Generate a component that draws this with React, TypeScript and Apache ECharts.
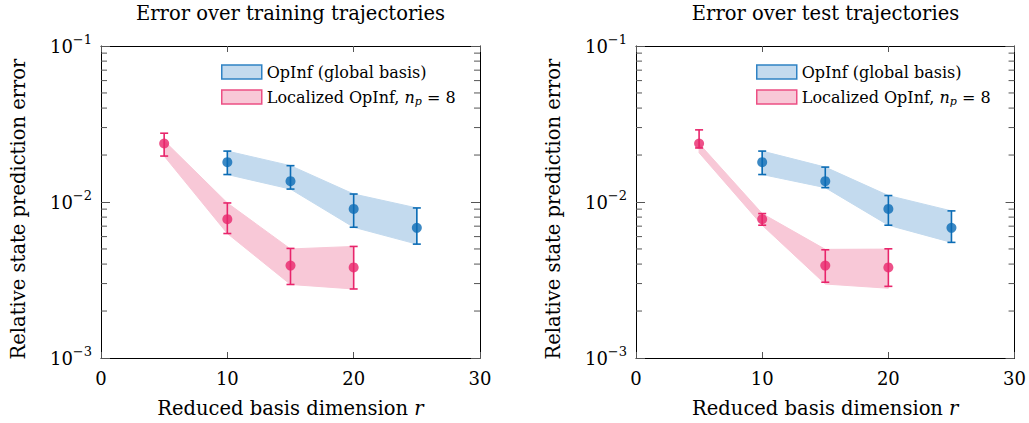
import React, { useEffect, useRef } from "react";
import * as echarts from "echarts";

const FONT = "DejaVu Serif";

// reduced basis dimensions
const rGlobal = [10, 15, 20, 25];
const rLocal = [5, 10, 15, 20];

// training trajectories
const trainGlobalMean = [0.018, 0.0136, 0.00903, 0.00683];
const trainGlobalLo = [0.015, 0.0121, 0.00689, 0.00537];
const trainGlobalHi = [0.0212, 0.0171, 0.01125, 0.00916];
const trainLocalMean = [0.0237, 0.00776, 0.00391, 0.00381];
const trainLocalErrLo = [0.0197, 0.00628, 0.00296, 0.00277];
const trainLocalErrHi = [0.0276, 0.00986, 0.00504, 0.00519];
const trainLocalBandLo = [0.0197, 0.00628, 0.00296, 0.00277];
const trainLocalBandHi = [0.0247, 0.00986, 0.005, 0.00519];

// test trajectories
const testGlobalMean = [0.018, 0.0136, 0.00903, 0.00683];
const testGlobalLo = [0.015, 0.01236, 0.0071, 0.00551];
const testGlobalHi = [0.0212, 0.01674, 0.011, 0.00877];
const testLocalMean = [0.0237, 0.00776, 0.00391, 0.00381];
const testLocalErrLo = [0.0222, 0.0071, 0.00306, 0.00288];
const testLocalErrHi = [0.029, 0.00843, 0.00494, 0.00501];
const testLocalBandLo = [0.0207, 0.0071, 0.00298, 0.0028];
const testLocalBandHi = [0.0237, 0.00843, 0.00497, 0.00499];

const titles = ["Error over training trajectories", "Error over test trajectories"];
const minorTickValues = [2, 3, 4, 5, 6, 7, 8, 9].flatMap((m) => [m * 0.001, m * 0.01]);

const NAME_GLOBAL = "OpInf (global basis)";
const NAME_LOCAL = "Localized OpInf, n_p = 8";

const BLUE = "#0b6cb5";
const PINK = "#e8256b";
const BLUE_FILL = "#c3daee";
const PINK_FILL = "#f8c8d7";
const BLUE_EDGE = "#2f82c4";
const PINK_EDGE = "#ec4f84";

const GRID_LEFTS = [101, 636];
const GRID_W = 379;
const GRID_TOP = 46;
const GRID_H = 313;

const FS_TITLE = 19.5;
const FS_NAME = 19.5;
const FS_TICK = 18;
const FS_LEGEND = 16;

function bandSeries(name: string, gi: number, xs: number[], lo: number[], hi: number[], fill: string) {
  return {
    type: "custom",
    name,
    xAxisIndex: gi * 2,
    yAxisIndex: gi * 2,
    silent: true,
    z: 1,
    data: xs.map((x, i) => [x, lo[i], hi[i]]),
    renderItem: (params: any, api: any) => {
      if (params.dataIndexInside !== 0) return null;
      const n = params.dataInsideLength;
      const top: number[][] = [];
      const bot: number[][] = [];
      for (let i = 0; i < n; i++) {
        top.push(api.coord([api.value(0, i), api.value(2, i)]));
        bot.push(api.coord([api.value(0, i), api.value(1, i)]));
      }
      return {
        type: "polygon",
        shape: { points: top.concat(bot.reverse()) },
        style: { fill, stroke: fill, lineWidth: 1 },
      };
    },
  };
}

function errorSeries(gi: number, xs: number[], lo: number[], hi: number[], color: string) {
  return {
    type: "custom",
    xAxisIndex: gi * 2,
    yAxisIndex: gi * 2,
    silent: true,
    z: 3,
    data: xs.map((x, i) => [x, lo[i], hi[i]]),
    renderItem: (params: any, api: any) => {
      const a = api.coord([api.value(0), api.value(1)]);
      const b = api.coord([api.value(0), api.value(2)]);
      const w = 4;
      const st = { stroke: color, lineWidth: 1.6 };
      return {
        type: "group",
        children: [
          { type: "line", shape: { x1: a[0], y1: a[1], x2: b[0], y2: b[1] }, style: st },
          { type: "line", shape: { x1: a[0] - w, y1: a[1], x2: a[0] + w, y2: a[1] }, style: st },
          { type: "line", shape: { x1: b[0] - w, y1: b[1], x2: b[0] + w, y2: b[1] }, style: st },
        ],
      };
    },
  };
}

function pointSeries(gi: number, xs: number[], ys: number[], color: string) {
  return {
    type: "scatter",
    xAxisIndex: gi * 2,
    yAxisIndex: gi * 2,
    symbol: "circle",
    symbolSize: 10,
    z: 4,
    itemStyle: { color },
    data: xs.map((x, i) => [x, ys[i]]),
  };
}

function minorTickSeries(gi: number) {
  return {
    type: "custom",
    xAxisIndex: gi * 2,
    yAxisIndex: gi * 2,
    silent: true,
    z: 5,
    data: minorTickValues.map((v) => [0, v]),
    renderItem: (params: any, api: any) => {
      const cs = params.coordSys;
      const y = api.coord([0, api.value(1)])[1];
      const len = 6;
      const st = { stroke: "#555", lineWidth: 1 };
      return {
        type: "group",
        children: [
          { type: "line", shape: { x1: cs.x, y1: y, x2: cs.x + len, y2: y }, style: st },
          { type: "line", shape: { x1: cs.x + cs.width - len, y1: y, x2: cs.x + cs.width, y2: y }, style: st },
        ],
      };
    },
  };
}

const supLabel = (v: number) => {
  const e = Math.round(Math.log10(v));
  return "{b|10}{s|\u2212" + Math.abs(e) + "}";
};

function buildOption() {
  const grids = GRID_LEFTS.map((l) => ({ left: l, top: GRID_TOP, width: GRID_W, height: GRID_H }));
  const xAxes: any[] = [];
  const yAxes: any[] = [];
  GRID_LEFTS.forEach((_, gi) => {
    xAxes.push({
      type: "value",
      gridIndex: gi,
      min: 0,
      max: 30,
      interval: 10,
      position: "bottom",
      name: "Reduced basis dimension {i|r}",
      nameLocation: "middle",
      nameGap: 40,
      nameTextStyle: {
        fontFamily: FONT,
        fontSize: FS_NAME,
        color: "#000",
        rich: { i: { fontFamily: FONT, fontStyle: "italic", fontSize: FS_NAME, color: "#000" } },
      },
      axisLine: { show: true, onZero: false, lineStyle: { color: "#000", width: 1 } },
      axisTick: { show: true, inside: true, length: 6, lineStyle: { color: "#555" } },
      axisLabel: { fontFamily: FONT, fontSize: FS_TICK, color: "#000", margin: 11 },
      splitLine: { show: false },
    });
    xAxes.push({
      type: "value",
      gridIndex: gi,
      min: 0,
      max: 30,
      interval: 10,
      position: "top",
      axisLine: { show: true, onZero: false, lineStyle: { color: "#000", width: 1 } },
      axisTick: { show: true, inside: true, length: 6, lineStyle: { color: "#555" } },
      axisLabel: { show: false },
      splitLine: { show: false },
    });
    yAxes.push({
      type: "log",
      logBase: 10,
      gridIndex: gi,
      min: 0.001,
      max: 0.1,
      position: "left",
      name: "Relative state prediction error",
      nameLocation: "middle",
      nameGap: 73,
      nameTextStyle: { fontFamily: FONT, fontSize: FS_NAME, color: "#000", padding: [0, 14, 0, 0] },
      axisLine: { show: true, onZero: false, lineStyle: { color: "#000", width: 1 } },
      axisTick: { show: true, inside: true, length: 9, lineStyle: { color: "#555" } },
      axisLabel: {
        formatter: supLabel,
        margin: 9,
        rich: {
          b: { fontFamily: FONT, fontSize: FS_TICK, color: "#000", lineHeight: 26 },
          s: { fontFamily: FONT, fontSize: 13, color: "#000", lineHeight: 13, verticalAlign: "top" },
        },
      },
      splitLine: { show: false },
    });
    yAxes.push({
      type: "log",
      logBase: 10,
      gridIndex: gi,
      min: 0.001,
      max: 0.1,
      position: "right",
      axisLine: { show: true, onZero: false, lineStyle: { color: "#000", width: 1 } },
      axisTick: { show: true, inside: true, length: 9, lineStyle: { color: "#555" } },
      axisLabel: { show: false },
      splitLine: { show: false },
    });
  });

  const series: any[] = [
    bandSeries(NAME_GLOBAL, 0, rGlobal, trainGlobalLo, trainGlobalHi, BLUE_FILL),
    bandSeries(NAME_LOCAL, 0, rLocal, trainLocalBandLo, trainLocalBandHi, PINK_FILL),
    errorSeries(0, rGlobal, trainGlobalLo, trainGlobalHi, BLUE),
    errorSeries(0, rLocal, trainLocalErrLo, trainLocalErrHi, PINK),
    pointSeries(0, rGlobal, trainGlobalMean, BLUE),
    pointSeries(0, rLocal, trainLocalMean, PINK),
    minorTickSeries(0),
    bandSeries(NAME_GLOBAL, 1, rGlobal, testGlobalLo, testGlobalHi, BLUE_FILL),
    bandSeries(NAME_LOCAL, 1, rLocal, testLocalBandLo, testLocalBandHi, PINK_FILL),
    errorSeries(1, rGlobal, testGlobalLo, testGlobalHi, BLUE),
    errorSeries(1, rLocal, testLocalErrLo, testLocalErrHi, PINK),
    pointSeries(1, rGlobal, testGlobalMean, BLUE),
    pointSeries(1, rLocal, testLocalMean, PINK),
    minorTickSeries(1),
  ];

  const legendData = [
    { name: NAME_GLOBAL, icon: "rect", itemStyle: { color: BLUE_FILL, borderColor: BLUE_EDGE, borderWidth: 1.5 } },
    { name: NAME_LOCAL, icon: "rect", itemStyle: { color: PINK_FILL, borderColor: PINK_EDGE, borderWidth: 1.5 } },
  ];
  const legends = [216, 751].map((left) => ({
    left,
    top: 57,
    orient: "vertical",
    itemWidth: 40,
    itemHeight: 14,
    itemGap: 5,
    selectedMode: false,
    data: legendData,
    formatter: (name: string) => (name === NAME_LOCAL ? "Localized OpInf, {i|n}{s|p} = 8" : name),
    textStyle: {
      fontFamily: FONT,
      fontSize: FS_LEGEND,
      color: "#000",
      lineHeight: 20,
      rich: {
        i: { fontFamily: FONT, fontStyle: "italic", fontSize: FS_LEGEND, color: "#000", lineHeight: 20 },
        s: { fontFamily: FONT, fontStyle: "italic", fontSize: 11, color: "#000", lineHeight: 11, verticalAlign: "bottom" },
      },
    },
  }));

  const title = titles.map((t, gi) => ({
    text: t,
    left: GRID_LEFTS[gi] + GRID_W / 2,
    top: 3,
    padding: 0,
    textAlign: "center",
    textStyle: { fontFamily: FONT, fontSize: FS_TITLE, fontWeight: "normal", color: "#000" },
  }));

  return {
    animation: false,
    backgroundColor: "#fff",
    title,
    legend: legends,
    grid: grids,
    xAxis: xAxes,
    yAxis: yAxes,
    series,
  };
}

export default function App() {
  const ref = useRef<HTMLDivElement>(null);
  useEffect(() => {
    if (!ref.current) return;
    const chart = echarts.init(ref.current, null, { renderer: "svg" });
    chart.setOption(buildOption() as any);
    return () => chart.dispose();
  }, []);
  return (
    <div
      ref={ref}
      style={{ position: "absolute", left: 0, top: 0, width: 1029, height: 423, background: "#fff" }}
    />
  );
}
